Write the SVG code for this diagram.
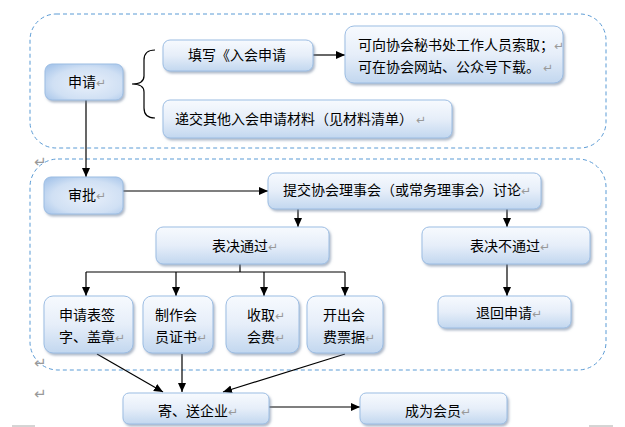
<svg xmlns="http://www.w3.org/2000/svg" width="625" height="427" viewBox="0 0 625 427">
<defs>
<linearGradient id="g1" x1="0" y1="0" x2="0" y2="1">
<stop offset="0" stop-color="#f7fafe"/>
<stop offset="0.5" stop-color="#e6eef9"/>
<stop offset="1" stop-color="#c2d7ef"/>
</linearGradient>
<radialGradient id="g2" cx="0.55" cy="0.55" r="0.75">
<stop offset="0" stop-color="#e9f0fa"/>
<stop offset="0.6" stop-color="#d0e0f4"/>
<stop offset="1" stop-color="#9fc0e8"/>
</radialGradient>
<filter id="sh" x="-10%" y="-10%" width="130%" height="140%">
<feDropShadow dx="1.5" dy="2" stdDeviation="1" flood-color="#6d7f9c" flood-opacity="0.55"/>
</filter>
<marker id="ah" markerWidth="10" markerHeight="10" refX="9" refY="5" orient="auto" markerUnits="userSpaceOnUse">
<path d="M0,1 L9,5 L0,9 Z" fill="#000"/>
</marker>
</defs>
<style>
.n{fill:url(#g1);stroke:#9cbde3;stroke-width:1;filter:url(#sh)}
.m{fill:url(#g2);stroke:#9cbde3;stroke-width:1;filter:url(#sh)}
.t{font-family:"Noto Sans CJK SC","Noto Sans",sans-serif;font-size:14px;fill:#000}
.r{fill:#999;font-size:12px;font-family:"DejaVu Sans",sans-serif}
.o{fill:#999;font-size:15px;font-family:"DejaVu Sans",sans-serif}
.c{fill:none;stroke:#000;stroke-width:1.2}
.a{marker-end:url(#ah)}
.d{fill:none;stroke:#5b9bd5;stroke-width:1;stroke-dasharray:4,3}
</style>

<g id="containers">
<rect class="d" x="30" y="14" width="576" height="134" rx="26"/>
<rect class="d" x="30" y="159" width="576" height="211" rx="28"/>
</g>

<g id="marks">
<text class="o" x="34" y="167">↵</text>
<text class="o" x="34" y="368">↵</text>
<text class="o" x="34" y="399">↵</text>
<line x1="12" y1="426" x2="35" y2="426" stroke="#aaa" stroke-width="1"/>
<line x1="589" y1="426" x2="613" y2="426" stroke="#aaa" stroke-width="1"/>
</g>

<g id="connectors">
<path class="c" d="M155,50 Q144,50 144,60 L144,76 Q144,84 132,84 Q144,84 144,92 L144,108 Q144,118 155,118"/>
<line class="c a" x1="313" y1="55" x2="345" y2="55"/>
<line class="c a" x1="86" y1="100" x2="86" y2="177"/>
<line class="c a" x1="123" y1="191" x2="268" y2="191"/>
<line class="c a" x1="298" y1="209" x2="298" y2="227"/>
<line class="c a" x1="507" y1="209" x2="507" y2="227"/>
<polyline class="c" points="240,264 240,272"/>
<polyline class="c" points="86,272 345,272"/>
<line class="c a" x1="86" y1="272" x2="86" y2="296"/>
<line class="c a" x1="176" y1="272" x2="176" y2="296"/>
<line class="c a" x1="264" y1="272" x2="264" y2="296"/>
<line class="c a" x1="345" y1="272" x2="345" y2="296"/>
<line class="c a" x1="507" y1="264" x2="507" y2="296"/>
<line class="c a" x1="97" y1="354" x2="163" y2="392"/>
<line class="c a" x1="182" y1="354" x2="182" y2="392"/>
<line class="c a" x1="345" y1="354" x2="223" y2="392"/>
<line class="c a" x1="269" y1="407" x2="360" y2="407"/>
</g>

<g id="n-apply">
<rect class="m" x="45" y="64" width="78" height="36" rx="7"/>
<text class="t" x="68" y="87">申请<tspan class="r">↵</tspan></text>
</g>
<g id="n-fill">
<rect class="n" x="163" y="40" width="150" height="31" rx="7"/>
<text class="t" x="188" y="60">填写《入会申请</text>
</g>
<g id="n-obtain">
<rect class="n" x="345" y="26" width="218" height="57" rx="9"/>
<text class="t" x="358" y="50">可向协会秘书处工作人员索取；<tspan class="r">↵</tspan></text>
<text class="t" x="358" y="72">可在协会网站、公众号下载。<tspan class="r" dx="3">↵</tspan></text>
</g>
<g id="n-submit">
<rect class="n" x="163" y="100" width="289" height="38" rx="7"/>
<text class="t" x="175" y="124">递交其他入会申请材料（见材料清单）<tspan class="r" dx="3">↵</tspan></text>
</g>
<g id="n-review">
<rect class="m" x="44" y="177" width="79" height="37" rx="7"/>
<text class="t" x="68" y="200">审批<tspan class="r">↵</tspan></text>
</g>
<g id="n-council">
<rect class="n" x="268" y="173" width="273" height="36" rx="7"/>
<text class="t" x="283" y="195">提交协会理事会（或常务理事会）讨论<tspan class="r">↵</tspan></text>
</g>
<g id="n-pass">
<rect class="n" x="156" y="227" width="173" height="37" rx="7"/>
<text class="t" x="212" y="251">表决通过<tspan class="r">↵</tspan></text>
</g>
<g id="n-fail">
<rect class="n" x="422" y="227" width="168" height="37" rx="7"/>
<text class="t" x="470" y="251">表决不通过<tspan class="r">↵</tspan></text>
</g>
<g id="n-sign">
<rect class="n" x="44" y="296" width="89" height="57" rx="9"/>
<text class="t" x="59" y="320">申请表签</text>
<text class="t" x="59" y="342">字、盖章<tspan class="r">↵</tspan></text>
</g>
<g id="n-cert">
<rect class="n" x="143" y="296" width="70" height="57" rx="9"/>
<text class="t" x="155" y="320">制作会</text>
<text class="t" x="155" y="342">员证书<tspan class="r">↵</tspan></text>
</g>
<g id="n-fee">
<rect class="n" x="226" y="296" width="73" height="57" rx="9"/>
<text class="t" x="247" y="320">收取<tspan class="r">↵</tspan></text>
<text class="t" x="247" y="342">会费<tspan class="r">↵</tspan></text>
</g>
<g id="n-receipt">
<rect class="n" x="307" y="296" width="76" height="57" rx="9"/>
<text class="t" x="323" y="320">开出会</text>
<text class="t" x="323" y="342">费票据<tspan class="r">↵</tspan></text>
</g>
<g id="n-return">
<rect class="n" x="438" y="296" width="133" height="32" rx="7"/>
<text class="t" x="476" y="318">退回申请<tspan class="r">↵</tspan></text>
</g>
<g id="n-send">
<rect class="n" x="123" y="393" width="146" height="31" rx="6"/>
<text class="t" x="158" y="416">寄、送企业<tspan class="r">↵</tspan></text>
</g>
<g id="n-member">
<rect class="n" x="360" y="393" width="147" height="31" rx="6"/>
<text class="t" x="405" y="416">成为会员<tspan class="r">↵</tspan></text>
</g>
</svg>
